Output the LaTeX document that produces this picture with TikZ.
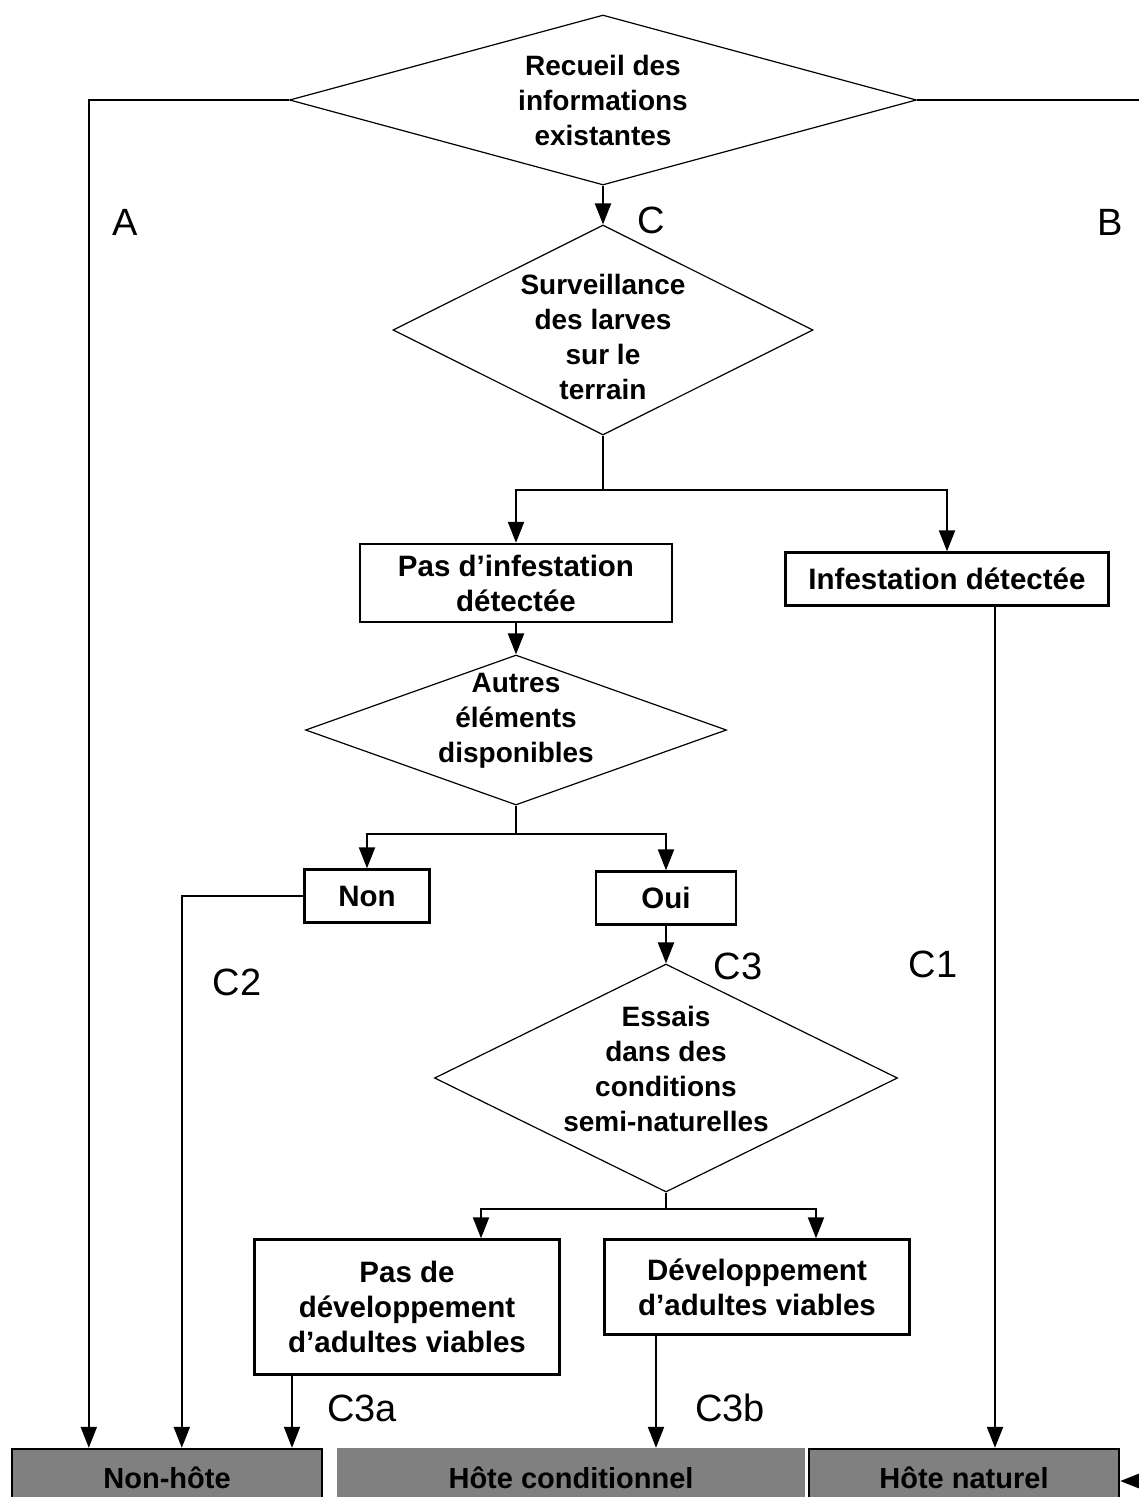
\documentclass[tikz,border=0pt]{standalone}
\usepackage{fontspec}
\setmainfont{Liberation Sans}
\usepackage{tikz}
\usetikzlibrary{shapes.geometric,arrows.meta,calc}
\definecolor{hostgray}{RGB}{128,128,128}
\tikzset{
  decision/.style={diamond, draw, line width=1.2pt, inner sep=0pt},
  dtext/.style={font=\bfseries\fontsize{28}{35}\selectfont, align=center},
  stepbox/.style={draw, line width=2.4pt, inner sep=0pt, font=\bfseries\fontsize{29.5}{35}\selectfont, align=center},
  hostbox/.style={fill=hostgray, draw=black, line width=2.4pt, inner sep=0pt, minimum height=58pt, font=\bfseries\fontsize{29}{32}\selectfont},
  lbl/.style={font=\fontsize{38}{40}\selectfont},
  conn/.style={line width=2.2pt},
  arr/.style={conn, -{Triangle[length=21pt,width=16pt]}}
}

\begin{document}
\begin{tikzpicture}[x=1pt,y=-1pt]
  \useasboundingbox (0,0) rectangle (1139,1497);
  % decisions
  \node[decision, minimum width=627pt, minimum height=170pt] (d1) at (603,100) {};
  \node[dtext] (d1txt) at (d1) {Recueil des\\informations\\existantes};
  \node[decision, minimum width=420pt, minimum height=210pt] (d2) at (603,330) {};
  \node[dtext] (d2txt) at (603,337) {Surveillance\\des larves\\sur le\\terrain};
  \node[decision, minimum width=421pt, minimum height=150pt] (d3) at (516,730) {};
  \node[dtext] (d3txt) at (516,721) {Autres\\éléments\\disponibles};
  \node[decision, minimum width=463pt, minimum height=228pt] (d4) at (666,1078) {};
  \node[dtext] (d4txt) at (666,1069) {Essais\\dans des\\conditions\\semi-naturelles};
  % boxes
  \node[stepbox, minimum width=312pt, minimum height=78pt] (b1) at (516,583) {Pas d’infestation\\détectée};
  \node[stepbox, minimum width=323pt, minimum height=53pt] (b2) at (947,579) {Infestation détectée};
  \node[stepbox, minimum width=125pt, minimum height=53pt] (b3) at (367,896) {Non};
  \node[stepbox, minimum width=140pt, minimum height=53pt] (b4) at (666,898) {Oui};
  \node[stepbox, minimum width=305pt, minimum height=135pt] (b5) at (407,1307) {Pas de\\développement\\d’adultes viables};
  \node[stepbox, minimum width=305pt, minimum height=95pt] (b6) at (757,1287) {Développement\\d’adultes viables};
  % hosts
  \node[hostbox, minimum width=310pt] (h1) at (167,1478) {Non-hôte};
  \node[hostbox, draw=hostgray, minimum width=466pt] (h2) at (571,1478) {Hôte conditionnel};
  \node[hostbox, minimum width=310pt] (h3) at (964,1478) {Hôte naturel};
  % connectors
  \draw[arr] (d1.west) -| ([xshift=78pt]h1.north west);
  \coordinate (bR) at (1139,100);
  \draw[conn] (d1.east) -- (bR);
  \coordinate (bIn) at (1139,1481);
  \draw[arr] (bIn) -- (bIn -| h3.east);
  \draw[arr] (d1.south) -- (d2.north);
  \draw[conn] (d2.south) -- ++(0,54) coordinate (s1);
  \draw[arr] (s1) -| (b1.north);
  \draw[arr] (s1) -| (b2.north);
  \coordinate (o2) at ([xshift=48pt]b2.south);
  \draw[arr] (o2) -- (o2 |- h3.north);
  \draw[arr] (b1.south) -- (d3.north);
  \draw[conn] (d3.south) -- ++(0,28) coordinate (s2);
  \draw[arr] (s2) -| (b3.north);
  \draw[arr] (s2) -| (b4.north);
  \draw[arr] (b3.west) -| ([xshift=171pt]h1.north west);
  \draw[arr] (b4.south) -- (d4.north);
  \draw[conn] (d4.south) -- ++(0,16) coordinate (s3);
  \draw[arr] (s3) -| ([xshift=74pt]b5.north);
  \draw[arr] (s3) -| ([xshift=59pt]b6.north);
  \coordinate (o5) at ([xshift=-115pt]b5.south);
  \draw[arr] (o5) -- (o5 |- h1.north);
  \coordinate (o6) at ([xshift=-101pt]b6.south);
  \draw[arr] (o6) -- (o6 |- h2.north);
  % labels
  \node[lbl] (lA) at (125,222) {A};
  \node[lbl] (lC) at (651,220) {C};
  \node[lbl] (lB) at (1110,222) {B};
  \node[lbl] (lC2) at (237,982) {C2};
  \node[lbl] (lC3) at (738,966) {C3};
  \node[lbl] (lC1) at (933,964) {C1};
  \node[lbl] (lC3a) at (362,1408) {C3a};
  \node[lbl] (lC3b) at (730,1408) {C3b};
\end{tikzpicture}
\end{document}
